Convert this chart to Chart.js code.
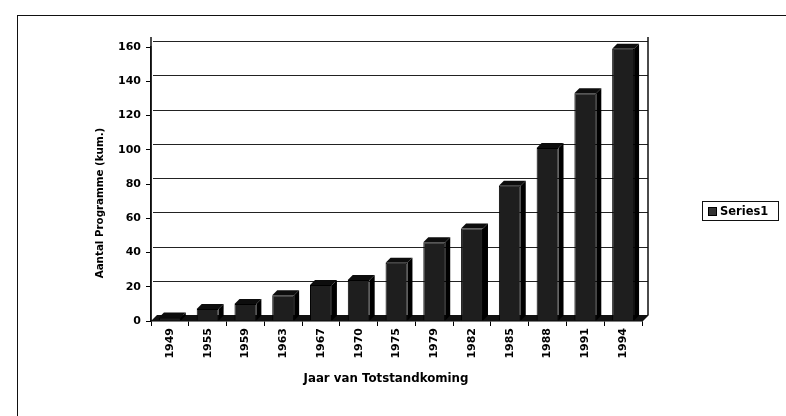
<!DOCTYPE html>
<html>
<head>
<meta charset="utf-8">
<script src="https://cdn.jsdelivr.net/npm/chart.js@4"></script>
<style>
  html, body { margin: 0; padding: 0; background: #fff; }
  #wrap { position: relative; width: 786px; height: 416px; overflow: hidden; }
  #frame { position: absolute; left: 17px; top: 15px; width: 780px; height: 410px;
           border-left: 1px solid #111; border-top: 1px solid #111; }
  #c { position: absolute; left: 0; top: 0; }
  #legend { position: absolute; left: 702px; top: 201px; width: 75px; height: 18px;
            border: 1px solid #111; font: bold 11.5px "DejaVu Sans", sans-serif;
            display: flex; align-items: center; color: #000; }
  #legend .sw { display: inline-block; width: 7px; height: 7px; background: #333;
                border: 1px solid #000; margin: 0 3px 0 5px; }
</style>
</head>
<body>
<div id="wrap">
  <div id="frame"></div>
  <canvas id="c" width="786" height="416"></canvas>
  <div id="legend"><span class="sw"></span><span id="legtext"></span></div>
</div>
<script>
const categories = ["1949","1955","1959","1963","1967","1970","1975","1979","1982","1985","1988","1991","1994"];
const seriesName = "Series1";
const seriesValues = [2, 7, 10, 15, 21, 24, 34, 46, 54, 79, 101, 133, 159];
const yTicks = [0, 20, 40, 60, 80, 100, 120, 140, 160];
const yTitle = "Aantal Programme (kum.)";
const xTitle = "Jaar van Totstandkoming";

document.getElementById('legtext').textContent = seriesName;

const FONT = '"DejaVu Sans", sans-serif';
const DEPTH = 6;

const wall3d = {
  id: 'wall3d',
  beforeDatasetsDraw(chart) {
    const ctx = chart.ctx, a = chart.chartArea, y = chart.scales.y;
    ctx.save();
    // back-wall gridlines
    ctx.strokeStyle = '#222';
    ctx.lineWidth = 1;
    yTicks.forEach(v => {
      if (v === 0) return;
      const py = Math.round(y.getPixelForValue(v) - DEPTH) + 0.5;
      ctx.beginPath();
      ctx.moveTo(a.left + 2, py);
      ctx.lineTo(a.right + DEPTH, py);
      ctx.stroke();
    });
    // floor
    ctx.fillStyle = '#111';
    ctx.beginPath();
    ctx.moveTo(a.left, a.bottom);
    ctx.lineTo(a.right, a.bottom);
    ctx.lineTo(a.right + DEPTH, a.bottom - DEPTH);
    ctx.lineTo(a.left + DEPTH, a.bottom - DEPTH);
    ctx.closePath();
    ctx.fill();
    ctx.restore();
  },
  afterDatasetsDraw(chart) {
    const ctx = chart.ctx, a = chart.chartArea;
    const meta = chart.getDatasetMeta(0);
    ctx.save();
    meta.data.forEach(bar => {
      const w = bar.width, x0 = bar.x - w / 2, x1 = bar.x + w / 2;
      const d = 5;
      ctx.fillStyle = '#000';
      ctx.beginPath();
      ctx.moveTo(x1, bar.y);
      ctx.lineTo(x1 + d, bar.y - d);
      ctx.lineTo(x1 + d, bar.base - d);
      ctx.lineTo(x1, bar.base);
      ctx.closePath();
      ctx.fill();
      ctx.fillStyle = '#0d0d0d';
      ctx.beginPath();
      ctx.moveTo(x0, bar.y);
      ctx.lineTo(x0 + d, bar.y - d);
      ctx.lineTo(x1 + d, bar.y - d);
      ctx.lineTo(x1, bar.y);
      ctx.closePath();
      ctx.fill();
    });
    // wall edges
    ctx.strokeStyle = '#111';
    ctx.lineWidth = 1.5;
    ctx.beginPath();
    ctx.moveTo(a.right + DEPTH, a.top - 10);
    ctx.lineTo(a.right + DEPTH, a.bottom - DEPTH);
    ctx.lineTo(a.right, a.bottom);
    ctx.stroke();
    ctx.beginPath();
    ctx.moveTo(a.left, a.bottom);
    ctx.lineTo(a.left, a.top - 10);
    ctx.stroke();
    // axis titles
    ctx.fillStyle = '#000';
    ctx.textAlign = 'center';
    ctx.textBaseline = 'middle';
    ctx.font = 'bold 11.8px ' + FONT;
    ctx.fillText(xTitle, 386, 379);
    ctx.translate(100, 203);
    ctx.rotate(-Math.PI / 2);
    ctx.font = 'bold 10.3px ' + FONT;
    ctx.fillText(yTitle, 0, 0);
    ctx.restore();
  }
};

new Chart(document.getElementById('c'), {
  type: 'bar',
  data: {
    labels: categories,
    datasets: [{
      label: seriesName,
      data: seriesValues,
      backgroundColor: '#1e1e1e',
      borderColor: '#000',
      borderWidth: 1,
      barPercentage: 0.58,
      categoryPercentage: 1.0
    }]
  },
  options: {
    responsive: false,
    animation: false,
    devicePixelRatio: 1,
    layout: { padding: { left: 87, top: 47, right: 144, bottom: 26 } },
    plugins: { legend: { display: false }, tooltip: { enabled: false } },
    scales: {
      x: {
        offset: true,
        afterFit(s) { s.height = 416 - 321 - 26; },
        grid: { display: true, drawOnChartArea: false, drawTicks: true, tickLength: 5, color: '#000', offset: true },
        border: { display: true, color: '#000', width: 1.5 },
        ticks: { color: '#000', font: { family: FONT, size: 11, weight: 'bold' }, minRotation: 90, maxRotation: 90, padding: 2, autoSkip: false },
        title: { display: false, text: xTitle }
      },
      y: {
        min: 0, max: 160,
        afterFit(s) { s.width = 151 - 87; },
        afterBuildTicks(s) { s.ticks = yTicks.map(v => ({ value: v })); },
        grid: { drawOnChartArea: false, color: '#000', tickLength: 5, drawTicks: true },
        border: { display: true, color: '#000', width: 1.5 },
        ticks: { color: '#000', font: { family: FONT, size: 11, weight: 'bold' }, padding: 5 },
        title: { display: false, text: yTitle }
      }
    }
  },
  plugins: [wall3d]
});
</script>
</body>
</html>
